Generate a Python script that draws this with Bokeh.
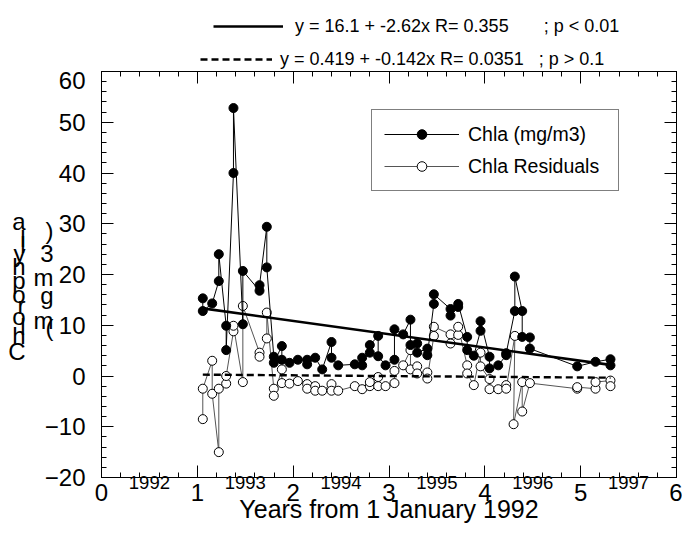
from bokeh.plotting import figure
from bokeh.layouts import column
from bokeh.models import (Range1d, LinearAxis, SingleIntervalTicker, FixedTicker,
                          Legend, LegendItem, CustomJSTickFormatter)
from bokeh.embed import file_html
from bokeh.resources import INLINE

FONT = "Liberation Sans"
NB = "\u00a0"

# ---------------- data ----------------
chla_x = [1.057, 1.057, 1.155, 1.224, 1.224, 1.301, 1.301, 1.377, 1.377,
          1.475, 1.475, 1.649, 1.649, 1.725, 1.725, 1.798, 1.798, 1.882,
          1.882, 1.962, 2.049, 2.146, 2.146, 2.230, 2.303, 2.400, 2.400,
          2.470, 2.643, 2.720, 2.720, 2.800, 2.800, 2.887, 2.887, 2.964,
          3.057, 3.057, 3.148, 3.224, 3.224, 3.294, 3.294, 3.400, 3.400,
          3.468, 3.468, 3.642, 3.642, 3.722, 3.722, 3.816, 3.816, 3.885,
          3.955, 3.955, 4.049, 4.049, 4.140, 4.223, 4.223, 4.313, 4.313,
          4.390, 4.390, 4.470, 4.470, 4.964, 5.155, 5.311, 5.311]
chla_y = [15.3, 12.8, 14.3, 18.7, 24.0, 9.9, 5.1, 40.0, 52.8,
          10.2, 20.7, 16.8, 17.9, 29.4, 21.4, 3.8, 2.6, 5.9,
          3.2, 2.6, 3.2, 3.2, 2.3, 3.6, 1.3, 6.7, 3.6,
          2.1, 2.3, 2.1, 3.6, 4.6, 6.1, 7.9, 3.9, 2.1,
          3.2, 9.2, 8.2, 11.1, 6.1, 6.4, 4.6, 5.4, 4.1,
          14.2, 16.1, 13.2, 11.9, 13.6, 14.2, 7.7, 5.1, 4.0,
          8.9, 10.8, 3.8, 1.5, 2.1, 4.1, 4.5, 12.8, 19.6,
          12.8, 7.7, 7.6, 5.4, 1.9, 2.8, 3.3, 2.1]

res_x = [1.057, 1.057, 1.155, 1.155, 1.224, 1.224, 1.301, 1.301, 1.377,
         1.377, 1.475, 1.475, 1.649, 1.649, 1.725, 1.725, 1.798, 1.798,
         1.882, 1.882, 1.962, 2.049, 2.146, 2.146, 2.230, 2.230, 2.303,
         2.400, 2.400, 2.470, 2.643, 2.720, 2.800, 2.800, 2.887, 2.887,
         2.964, 3.057, 3.057, 3.148, 3.224, 3.224, 3.294, 3.294, 3.400,
         3.400, 3.468, 3.468, 3.642, 3.642, 3.722, 3.722, 3.816, 3.816,
         3.885, 3.955, 3.955, 4.049, 4.049, 4.140, 4.223, 4.223, 4.313,
         4.300, 4.390, 4.390, 4.470, 4.964, 4.964, 5.155, 5.155, 5.311,
         5.311]
res_y = [-8.5, -2.5, 3.0, -3.5, -15.0, -2.5, -1.5, 0.0, 8.8,
         9.9, -1.2, 13.8, 4.6, 3.8, 7.4, 12.5, -2.5, -3.9,
         1.3, -1.4, -1.5, -1.0, -1.6, -2.5, -2.0, -2.9, -2.9,
         -1.6, -2.9, -2.9, -2.0, -2.6, -2.0, -1.2, -0.2, -2.0,
         -2.0, -1.4, 1.0, 2.1, 5.1, 1.3, 1.9, 0.5, 0.7,
         -0.5, 7.9, 9.7, 8.2, 6.4, 8.1, 9.7, 2.1, 0.5,
         -1.8, 4.6, 1.9, -0.6, -2.6, -2.6, -1.8, -2.5, 7.9,
         -9.5, -1.2, -7.0, -1.4, -2.5, -2.2, -2.5, -1.2, -0.9,
         -2.0]

fit_chla = [16.1, -2.62]          # intercept, slope
fit_res = [0.419, -0.142]
eq_labels = ["y = 16.1 + -2.62x R= 0.355", "y = 0.419 + -0.142x R= 0.0351"]
p_labels = ["; p < 0.01", "; p > 0.1"]
series_names = ["Chla (mg/m3)", "Chla Residuals"]
year_pos = [0.5, 1.5, 2.5, 3.5, 4.5, 5.5]
year_labels = ["1992", "1993", "1994", "1995", "1996", "1997"]
x_title = "Years from 1 January 1992"
y_title_main = "Chlorophyll a"
y_title_unit = "(mg m3)"

# ---------------- layout constants ----------------
W = 682
TOP_H = 71                 # strip holding the regression-line key
H = 463                    # main plot
BL, BR, BT, BB = 101, 6, 0, 57
Y0, Y1 = -20, 60
line1 = dict(line_color="black", line_width=2.6)
line2 = dict(line_color="black", line_width=2.4, line_dash="7 4")

# ---------------- main figure ----------------
p = figure(width=W, height=H, x_range=Range1d(0, 6), y_range=Range1d(Y0, Y1),
           output_backend="svg", toolbar_location=None,
           x_axis_location=None, y_axis_location=None,
           min_border_left=BL, min_border_right=BR,
           min_border_top=BT, min_border_bottom=BB)
p.xgrid.visible = False
p.ygrid.visible = False
p.outline_line_color = "black"
p.background_fill_color = "white"
p.border_fill_color = "white"


def tick_axis(interval, labelled, standoff=0):
    ax = LinearAxis(ticker=SingleIntervalTicker(interval=interval, num_minor_ticks=5),
                    major_tick_in=12, major_tick_out=0,
                    minor_tick_in=5, minor_tick_out=0,
                    axis_line_color="black", major_tick_line_color="black",
                    minor_tick_line_color="black",
                    major_label_text_font=FONT, major_label_text_font_size="24px",
                    major_label_text_color="black",
                    major_label_standoff=standoff)
    if not labelled:
        ax.formatter = CustomJSTickFormatter(code="return ''")
        ax.major_label_standoff = 0
        ax.major_label_text_font_size = "1px"
    return ax


def text_axis(ticks, labels, size, standoff):
    return LinearAxis(ticker=FixedTicker(ticks=ticks, minor_ticks=[]),
                      major_label_overrides=dict(zip(ticks, labels)),
                      axis_line_color=None, major_tick_line_color=None,
                      minor_tick_line_color=None, major_tick_in=0, major_tick_out=0,
                      minor_tick_in=0, minor_tick_out=0,
                      major_label_text_font=FONT, major_label_text_font_size=size,
                      major_label_text_color="black", major_label_standoff=standoff)


# bottom: ticks + integer labels, then years (pulled up beside them) + title
p.add_layout(tick_axis(1, True, 6), "below")
years_ax = text_axis(year_pos, year_labels, "18.5px", -28)
years_ax.axis_label = x_title
years_ax.axis_label_standoff = 3
years_ax.axis_label_text_font = FONT
years_ax.axis_label_text_font_size = "25px"
years_ax.axis_label_text_font_style = "normal"
years_ax.axis_label_text_color = "black"
p.add_layout(years_ax, "below")

# left: ticks + value labels, then the stacked y title columns
p.add_layout(tick_axis(10, True, 16), "left")

frame_h = 405


def to_data(h):
    return round(Y0 + h * (Y1 - Y0) / frame_h, 4)


# unit column "(mg m3)": heights of each glyph centre above the frame bottom
unit_chars = [c for c in y_title_unit if c != " "]
unit_h = [150, 157, 182, 200, 223, 246]
p.add_layout(text_axis([to_data(h) for h in unit_h], unit_chars, "24px", -12), "left")

# main column "Chlorophyll a": glyphs stacked upright, advanced by their widths
adv = {"C": .722, "h": .556, "l": .222, "o": .556, "r": .333, "p": .556,
       "y": .5, " ": .278, "a": .556}
main_ticks, main_chars = [], []
h = 116.2
for ch in y_title_main:
    w = adv.get(ch, .556) * 25
    if ch != " ":
        main_ticks.append(to_data(h + w / 2))
        main_chars.append(ch)
    h += w
p.add_layout(text_axis(main_ticks, main_chars, "24px", 5), "left")

p.add_layout(tick_axis(1, False), "above")
p.add_layout(tick_axis(10, False), "right")

# ---------------- data renderers ----------------
res_line = p.line(res_x, res_y, line_color="#555555", line_width=1)
res_pts = p.scatter(res_x, res_y, marker="circle", size=9, fill_color="white",
                    line_color="black", line_width=1)
chla_line = p.line(chla_x, chla_y, line_color="black", line_width=1)
chla_pts = p.scatter(chla_x, chla_y, marker="circle", size=9, fill_color="black",
                     line_color="black")

xs_fit = [min(chla_x), max(chla_x)]
ys_fit = [fit_chla[0] + fit_chla[1] * v for v in xs_fit]
p.line(xs_fit, ys_fit, **line1)
xs_res = [min(res_x), max(res_x)]
ys_res = [fit_res[0] + fit_res[1] * v for v in xs_res]
p.line(xs_res, ys_res, **line2)

legC = Legend(items=[LegendItem(label=series_names[0], renderers=[chla_line, chla_pts]),
                     LegendItem(label=series_names[1], renderers=[res_line, res_pts])],
              location=(270, 286), padding=12, spacing=8, glyph_width=75,
              glyph_height=24, label_height=24, label_standoff=9, label_width=138,
              margin=0, label_text_font=FONT, label_text_font_size="19.5px",
              label_text_color="black", border_line_color="black",
              border_line_width=1, background_fill_color="white",
              background_fill_alpha=1)
p.add_layout(legC)

# ---------------- top strip: key of the two regression lines ----------------
# the strip shares the main frame's horizontal extent; its y range lies far
# above the fitted values, so the key renderers only show in the legend
top = figure(width=W, height=TOP_H, x_range=p.x_range, y_range=Range1d(1000, 1001),
             output_backend="svg", toolbar_location=None,
             x_axis_location=None, y_axis_location=None, min_border=0)
top.xgrid.visible = False
top.ygrid.visible = False
top.outline_line_color = None
key1 = top.line(xs_fit, ys_fit, **line1)
key2 = top.line(xs_res, ys_res, **line2)
common = dict(label_text_font=FONT, label_text_color="black", margin=0,
              border_line_color=None, background_fill_alpha=0, padding=0,
              glyph_height=24, label_height=24, label_text_font_size="18px")
legA = Legend(items=[LegendItem(label=eq_labels[0] + NB * 7 + p_labels[0],
                                renderers=[key1])],
              location=(112, TOP_H - 38), glyph_width=70, label_standoff=12, **common)
legB = Legend(items=[LegendItem(label=eq_labels[1] + NB * 3 + p_labels[1],
                                renderers=[key2])],
              location=(99, 0), glyph_width=72, label_standoff=8, **common)
top.add_layout(legA)
top.add_layout(legB)

layout = column(top, p, spacing=0)
open("out.html", "w").write(file_html(layout, INLINE))
